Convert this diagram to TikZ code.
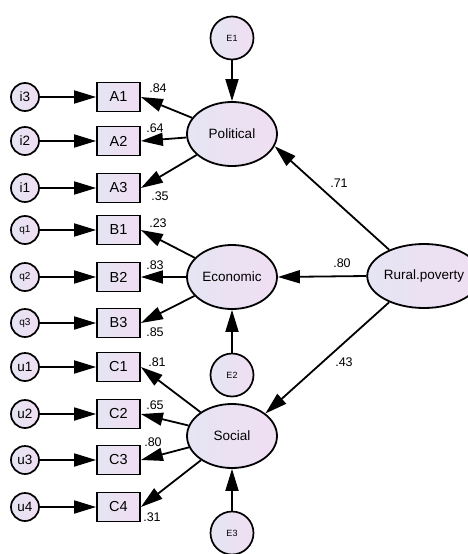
\documentclass[tikz,border=0pt]{standalone}
\usepackage{fontspec}
\setmainfont{Liberation Sans}
\usetikzlibrary{arrows.meta,shapes.geometric}
\definecolor{lavL}{RGB}{229,229,243}
\definecolor{lavR}{RGB}{240,222,243}
\begin{document}
\begin{tikzpicture}[x=1pt,y=-1pt,
  shade/.style={left color=lavL, right color=lavR, draw=black},
  lat/.style={ellipse, shade, line width=1.8pt, minimum width=90pt, minimum height=64pt, inner sep=0pt, font=\fontsize{13.5}{13.5}\selectfont},
  err/.style={circle, shade, line width=1.7pt, minimum size=28pt, inner sep=0pt, font=\fontsize{13.5}{13.5}\selectfont},
  errs/.style={err, font=\fontsize{10}{10}\selectfont},
  ebig/.style={circle, shade, line width=1.7pt, minimum size=43pt, inner sep=0pt, font=\fontsize{9}{9}\selectfont},
  obs/.style={rectangle, shade, line width=1.8pt, minimum width=43pt, minimum height=29pt, inner sep=0pt, font=\fontsize{14.5}{14.5}\selectfont},
  arr/.style={-{Triangle[length=22pt,width=13pt]}, line width=1.8pt},
  val/.style={inner sep=0pt, font=\fontsize{12.5}{12.5}\selectfont}
]
\useasboundingbox (0,0) rectangle (468,554);

% latent variables
\node[lat] (pol) at (232,134) {Political};
\node[lat] (eco) at (232,277) {Economic};
\node[lat] (soc) at (232,436) {Social};
\node[lat, minimum width=86pt] (rp) at (424,276) {Rural.poverty};

% disturbances
\node[ebig] (E1) at (232,38) {E1};
\node[ebig] (E2) at (232,375) {E2};
\node[ebig] (E3) at (232,533) {E3};

% observed variables
\foreach \n/\y in {A1/97,A2/141,A3/188,B1/230,B2/277,B3/323,C1/367,C2/414,C3/460,C4/507}
  \node[obs] (\n) at (118.5,\y) {\n};

% error terms
\foreach \n/\y in {i3/97,i2/141,i1/188,u1/367,u2/414,u3/460,u4/507}
  \node[err] (\n) at (25,\y) {\n};
\foreach \n/\y in {q1/230,q2/277,q3/323}
  \node[errs] (\n) at (25,\y) {\n};

% error arrows
\foreach \e/\o in {i3/A1,i2/A2,i1/A3,q1/B1,q2/B2,q3/B3,u1/C1,u2/C2,u3/C3,u4/C4}
  \draw[arr] (\e) -- (\o);

% loadings
\foreach \l/\o in {pol/A1,pol/A2,pol/A3,eco/B1,eco/B2,eco/B3,soc/C1,soc/C2,soc/C3,soc/C4}
  \draw[arr] (\l) -- (\o.east);

% disturbance arrows
\draw[arr] (E1) -- (pol);
\draw[arr] (E2) -- (eco);
\draw[arr] (E3) -- (soc);

% structural paths
\draw[arr] (rp.143) -- (pol.-16);
\draw[arr] (rp.west) -- (eco.east);
\draw[arr] (rp.217) -- (soc.34);

% values
\node[val] (v1) at (158,88) {.84};
\node[val] (v2) at (155,128) {.64};
\node[val] (v3) at (160,196) {.35};
\node[val] (v4) at (158,223) {.23};
\node[val] (v5) at (155,265) {.83};
\node[val] (v6) at (155,332) {.85};
\node[val] (v7) at (157,362) {.81};
\node[val] (v8) at (155,405) {.65};
\node[val] (v9) at (153,442) {.80};
\node[val] (v10) at (152,517) {.31};
\node[val] (v11) at (339,183) {.71};
\node[val] (v12) at (342,263) {.80};
\node[val] (v13) at (344,362) {.43};
\end{tikzpicture}
\end{document}
